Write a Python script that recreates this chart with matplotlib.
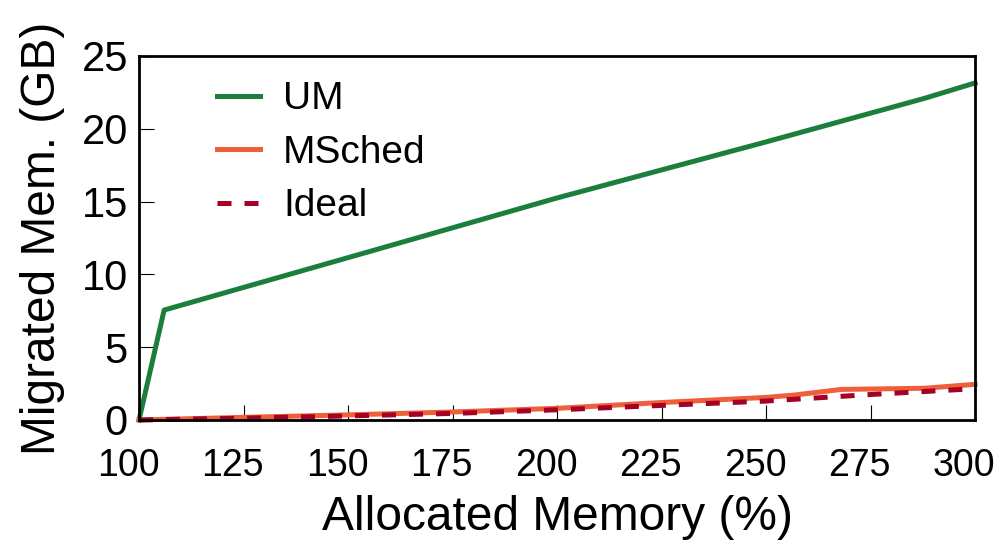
import matplotlib
matplotlib.use('Agg')
import matplotlib.pyplot as plt
from matplotlib.transforms import ScaledTranslation

# values
um_x = [100, 106, 150, 200, 250, 288, 300]
um_y = [0, 7.55, 11.15, 15.25, 19.1, 22.1, 23.15]

msched_x = [100, 125, 150, 175, 200, 225, 250, 257, 268, 288, 300]
msched_y = [0, 0.18, 0.35, 0.55, 0.8, 1.2, 1.55, 1.72, 2.1, 2.18, 2.45]

ideal_x = [100, 125, 150, 175, 200, 225, 250, 275, 300]
ideal_y = [0, 0.12, 0.28, 0.45, 0.7, 1.0, 1.3, 1.75, 2.15]

x_ticks = [100, 125, 150, 175, 200, 225, 250, 275, 300]
y_ticks = [0, 5, 10, 15, 20, 25]

plt.rcParams['font.family'] = ['Liberation Sans', 'DejaVu Sans']
plt.rcParams['font.size'] = 28

fig = plt.figure(figsize=(9.96, 5.49), dpi=100)
ax = fig.add_axes([0.1396, 0.235, 0.8394, 0.663])

ax.plot(um_x, um_y, color='#1b7e3c', lw=3.6, label='UM', clip_on=False)
ax.plot(msched_x, msched_y, color='#ee5f3a', lw=3.6, label='MSched', clip_on=False)
ax.plot(ideal_x, ideal_y, color='#a50025', lw=3.6, dashes=(2.8, 2.6),
        label='Ideal', clip_on=False)

ax.set_xlim(100, 300)
ax.set_ylim(0, 25)
ax.set_xticks(x_ticks)
ax.set_yticks(y_ticks)
ax.tick_params(axis='both', direction='in', length=11, width=0.8)
ax.tick_params(axis='x', pad=20, labelsize=27)
ax.tick_params(axis='y', pad=8, labelsize=30)
for s in ax.spines.values():
    s.set_linewidth(2)

# x tick labels sit a little left of their ticks in the original
shift = ScaledTranslation(-0.11, 0, fig.dpi_scale_trans)
for lab in ax.get_xticklabels():
    lab.set_transform(lab.get_transform() + shift)

ax.set_xlabel('Allocated Memory (%)', fontsize=34.5, labelpad=8)
ax.set_ylabel('Migrated Mem. (GB)', fontsize=34.5, labelpad=12)

ax.legend(loc='upper left', bbox_to_anchor=(0.093, 0.93), frameon=False,
          borderpad=0, borderaxespad=0, handlelength=1.1,
          handletextpad=0.6, labelspacing=0.45, fontsize=28)

fig.savefig('out.png', dpi=100)
